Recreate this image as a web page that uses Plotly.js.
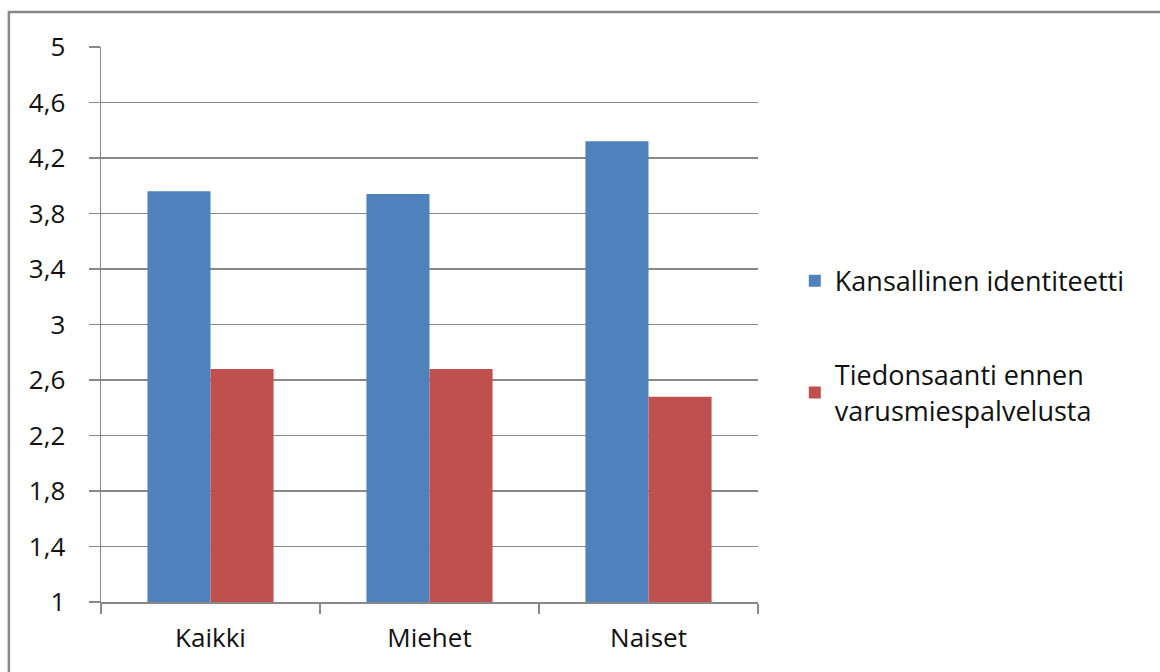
<!DOCTYPE html>
<html>
<head>
<meta charset="utf-8">
<script src="https://cdn.plot.ly/plotly-3.0.1.min.js"></script>
<style>html,body{margin:0;padding:0;background:#fff;}#chart{width:1160px;height:672px;}</style>
</head>
<body>
<div id="chart"></div>
<script>
var categories = ["Kaikki", "Miehet", "Naiset"];
var seriesNames = ["Kansallinen identiteetti", "Tiedonsaanti ennen<br>varusmiespalvelusta"];
var identiteetti = [3.96, 3.94, 4.32];
var tiedonsaanti = [2.68, 2.68, 2.48];
var yTickVals = [1, 1.4, 1.8, 2.2, 2.6, 3, 3.4, 3.8, 4.2, 4.6, 5];
var yTickText = ["1", "1,4", "1,8", "2,2", "2,6", "3", "3,4", "3,8", "4,2", "4,6", "5"];

var fontFam = "Open Sans, Liberation Sans, sans-serif";
var traces = [
  {type: "bar", name: seriesNames[0], x: categories, y: identiteetti, marker: {color: "#4F81BD"}, legendgroup: "a"},
  {type: "bar", name: seriesNames[1], x: categories, y: tiedonsaanti, marker: {color: "#C0504D"}, legendgroup: "b"}
];
var layout = {
  width: 1160, height: 672,
  margin: {l: 101, r: 402, t: 47, b: 70},
  paper_bgcolor: "#fff", plot_bgcolor: "#fff",
  barmode: "group", bargap: 0.424, bargroupgap: 0,
  font: {family: fontFam, size: 26, color: "#111"},
  xaxis: {
    type: "category", showgrid: false, showline: true, linecolor: "#888", linewidth: 1.5,
    ticks: "outside", tickson: "boundaries", ticklen: 10, tickcolor: "#888", tickwidth: 1.5,
    tickfont: {size: 26}, ticklabelstandoff: 12, fixedrange: true
  },
  yaxis: {
    range: [1, 5], tickvals: yTickVals, ticktext: yTickText,
    showgrid: true, gridcolor: "#888", gridwidth: 1.3,
    showline: true, linecolor: "#888", linewidth: 1.5,
    ticks: "outside", ticklen: 11, tickcolor: "#888", tickwidth: 1.5,
    tickfont: {size: 26}, ticklabelstandoff: 18, zeroline: false, fixedrange: true
  },
  showlegend: true,
  legend: {
    x: 1.056, xanchor: "left", y: 0.622, yanchor: "top",
    font: {size: 27}, tracegroupgap: 56, bgcolor: "rgba(0,0,0,0)"
  },
  shapes: [
    {type: "rect", xref: "paper", yref: "paper", x0: -0.1402, x1: 1.7, y0: -0.2, y1: 1.063,
     line: {color: "#888", width: 2.5}, fillcolor: "rgba(0,0,0,0)", layer: "below"}
  ]
};
Plotly.newPlot("chart", traces, layout, {displayModeBar: false, staticPlot: true});
</script>
</body>
</html>
